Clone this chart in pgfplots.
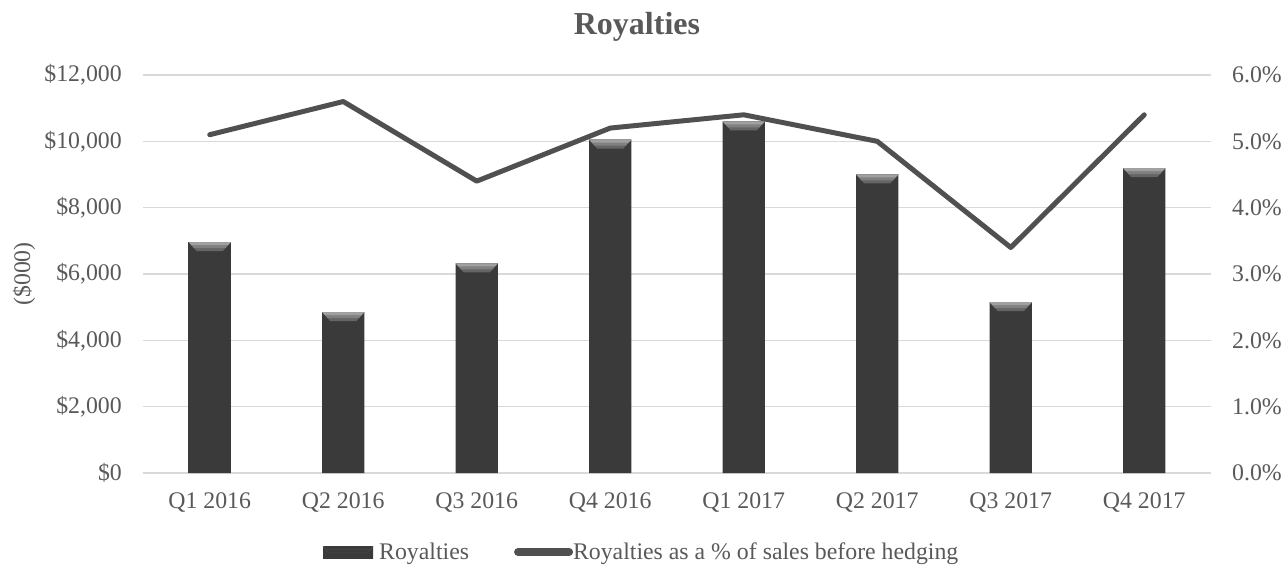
\documentclass[border=0pt]{standalone}
\usepackage{fontspec}
\setmainfont{Liberation Serif}
\usepackage{pgfplots}
\pgfplotsset{compat=1.18}
\definecolor{txt}{HTML}{595959}
\definecolor{gridc}{HTML}{D9D9D9}
\definecolor{barmid}{HTML}{545454}
\definecolor{bardark}{HTML}{3A3A3A}
\definecolor{bevA}{HTML}{A0A0A0}
\definecolor{bevB}{HTML}{808080}
\definecolor{bevC}{HTML}{656565}
\definecolor{linec}{HTML}{505050}
\pgfdeclareplotmark{bevel}{%
  \pgfsetfillcolor{bevC}%
  \pgfpathmoveto{\pgfpoint{-21pt}{0pt}}%
  \pgfpathlineto{\pgfpoint{21pt}{0pt}}%
  \pgfpathlineto{\pgfpoint{13pt}{-9pt}}%
  \pgfpathlineto{\pgfpoint{-13pt}{-9pt}}%
  \pgfpathclose\pgfusepath{fill}%
  \pgfsetfillcolor{bevB}%
  \pgfpathmoveto{\pgfpoint{-21pt}{0pt}}%
  \pgfpathlineto{\pgfpoint{21pt}{0pt}}%
  \pgfpathlineto{\pgfpoint{15.7pt}{-6pt}}%
  \pgfpathlineto{\pgfpoint{-15.7pt}{-6pt}}%
  \pgfpathclose\pgfusepath{fill}%
  \pgfsetfillcolor{bevA}%
  \pgfpathmoveto{\pgfpoint{-21pt}{0pt}}%
  \pgfpathlineto{\pgfpoint{21pt}{0pt}}%
  \pgfpathlineto{\pgfpoint{18.3pt}{-3pt}}%
  \pgfpathlineto{\pgfpoint{-18.3pt}{-3pt}}%
  \pgfpathclose\pgfusepath{fill}%
}
\begin{document}
\begin{tikzpicture}
\useasboundingbox (0,0) rectangle (1284pt,565pt);
\begin{axis}[
  at={(143pt,92pt)}, anchor=south west,
  scale only axis, width=1068pt, height=398pt,
  xmin=-0.5, xmax=7.5, ymin=0, ymax=12000,
  ytick={0,2000,...,12000},
  scaled y ticks=false,
  xtick={0,...,7},
  xticklabels={Q1 2016,Q2 2016,Q3 2016,Q4 2016,Q1 2017,Q2 2017,Q3 2017,Q4 2017},
  ymajorgrids, grid style={draw=gridc, line width=1.5pt},
  axis x line*=bottom, axis y line*=left,
  x axis line style={draw=gridc, line width=1.5pt, -},
  y axis line style={draw=none},
  major tick length=0pt, tick style={draw=none},
  /pgf/number format/fixed,
  /pgf/number format/precision=0,
  /pgf/number format/1000 sep={,},
  /pgf/number format/assume math mode=true,
  yticklabel={\$\pgfmathprintnumber{\tick}},
  ticklabel style={font=\fontsize{23.8}{28}\selectfont, text=txt, inner sep=0pt},
  y tick label style={anchor=east, xshift=-21pt},
  x tick label style={anchor=north, yshift=-19pt},
  ylabel={(\$000)},
  ylabel style={at={(rel axis cs:0,0.5)}, anchor=center, yshift=119pt, font=\fontsize{23.8}{28}\selectfont, text=txt},
  title={Royalties},
  title style={at={(rel axis cs:0.4625,1.1005)}, anchor=base, yshift=-6pt, font=\fontsize{32}{38}\selectfont\bfseries, text=txt},
  legend style={at={(rel axis cs:0.1657,-0.1985)}, anchor=west, draw=none, fill=none,
    legend columns=2, font=\fontsize{23.8}{28}\selectfont, text=txt,
    nodes={inner sep=0pt},
    /tikz/every even column/.append style={column sep=45pt}},
]
\addplot[ybar, bar width=0.315, draw=none, left color=bardark, middle color=barmid, right color=bardark,
  legend image code/.code={
    \shade[left color=bardark, middle color=barmid, right color=bardark] (0pt,-6pt) rectangle (50pt,6pt);
    \fill[bevB] (0pt,6pt) -- (50pt,6pt) -- (45pt,0pt) -- (5pt,0pt) -- cycle;
    \fill[bevA] (0pt,6pt) -- (50pt,6pt) -- (47.5pt,3pt) -- (2.5pt,3pt) -- cycle;
    \path (56pt,0pt);}]
  coordinates {(0,6960) (1,4850) (2,6320) (3,10050) (4,10600) (5,9000) (6,5150) (7,9190)};
\addlegendentry{Royalties}
\addlegendimage{legend image code/.code={\draw[linec, line width=8pt, line cap=round] (4pt,0pt) -- (55pt,0pt);}}
\addlegendentry{Royalties as a \% of sales before hedging}
\addplot[only marks, mark=bevel, forget plot]
  coordinates {(0,6960) (1,4850) (2,6320) (3,10050) (4,10600) (5,9000) (6,5150) (7,9190)};
\end{axis}
\begin{axis}[
  at={(143pt,92pt)}, anchor=south west,
  scale only axis, width=1068pt, height=398pt,
  xmin=-0.5, xmax=7.5, ymin=0, ymax=6,
  ytick={0,1,...,6},
  axis x line=none, axis y line*=right,
  y axis line style={draw=none},
  major tick length=0pt, tick style={draw=none},
  /pgf/number format/assume math mode=true,
  yticklabel={\pgfmathprintnumber[fixed, fixed zerofill, precision=1]{\tick}\%},
  ticklabel style={font=\fontsize{23.8}{28}\selectfont, text=txt, inner sep=0pt},
  y tick label style={anchor=west, xshift=21pt},
]
\addplot[linec, line width=5pt, line cap=round, line join=round, mark=none]
  coordinates {(0,5.1) (1,5.6) (2,4.4) (3,5.2) (4,5.4) (5,5.0) (6,3.4) (7,5.4)};
\end{axis}
\end{tikzpicture}
\end{document}
